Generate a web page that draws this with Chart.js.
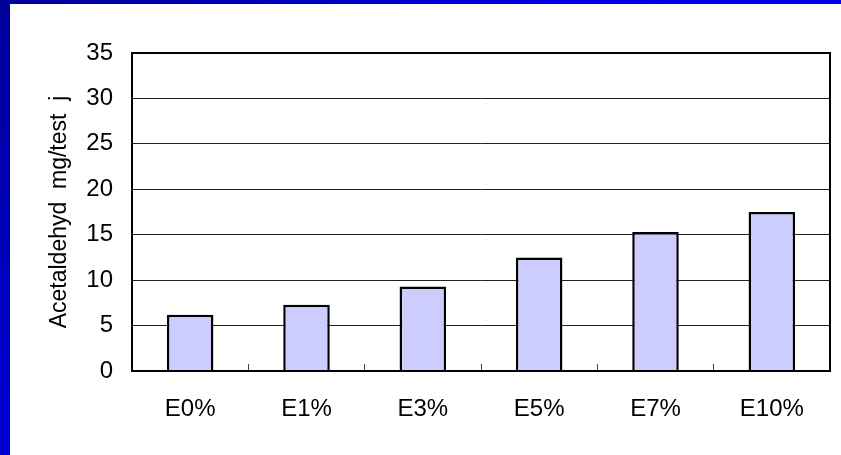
<!DOCTYPE html>
<html>
<head>
<meta charset="utf-8">
<script src="https://cdn.jsdelivr.net/npm/chart.js@4"></script>
<style>
  html, body { margin: 0; padding: 0; }
  body {
    width: 841px; height: 455px; overflow: hidden; position: relative;
    background: linear-gradient(135deg, #00009a 0%, #0000e6 45%, #0000ff 100%);
  }
  #wrap { position: absolute; left: 10px; top: 4px; width: 831px; height: 451px; background: #fff; }
</style>
</head>
<body>
<div id="wrap"><canvas id="chart" width="831" height="451"></canvas></div>
<script>
// data
const categories = ['E0%', 'E1%', 'E3%', 'E5%', 'E7%', 'E10%'];
const acetaldehyd = [6.2, 7.3, 9.3, 12.5, 15.3, 17.5];
const yMax = 35;
const yStep = 5;
const yTitle = 'Acetaldehyd  mg/test  j';

const FONT = 'Liberation Sans, Arial, sans-serif';

// draws the black frame round the plot area
const frame = {
    id: 'frame',
    afterDraw(chart) {
        const { ctx, chartArea } = chart;
        ctx.save();
        ctx.strokeStyle = '#000';
        ctx.lineWidth = 2;
        ctx.strokeRect(chartArea.left, chartArea.top, chartArea.right - chartArea.left, chartArea.bottom - chartArea.top);
        ctx.restore();
    }
};

new Chart(document.getElementById('chart'), {
    type: 'bar',
    data: {
        labels: categories,
        datasets: [{
            data: acetaldehyd,
            backgroundColor: '#ccccff',
            borderColor: '#000',
            borderWidth: 2.5,
            barPercentage: 0.4,
            categoryPercentage: 1
        }]
    },
    options: {
        responsive: false,
        animation: false,
        layout: { padding: { left: 36, top: 49, right: 11, bottom: 0 } },
        plugins: {
            legend: { display: false },
            tooltip: { enabled: false }
        },
        scales: {
            x: {
                afterFit: (s) => { s.height = 84; },
                grid: {
                    offset: true,
                    drawOnChartArea: false,
                    tickLength: -7,
                    color: '#444',
                    lineWidth: 1
                },
                border: { color: '#000', width: 2 },
                ticks: { color: '#000', padding: 31, font: { family: FONT, size: 24 } }
            },
            y: {
                min: 0,
                max: yMax,
                afterFit: (s) => { s.width = 86; },
                grid: { drawTicks: false, color: '#222', lineWidth: 1 },
                border: { color: '#000', width: 2 },
                ticks: { stepSize: yStep, color: '#000', padding: 19, font: { family: FONT, size: 24 } },
                title: {
                    display: true,
                    text: yTitle,
                    color: '#000',
                    padding: 0,
                    font: { family: FONT, size: 23 }
                }
            }
        }
    },
    plugins: [frame]
});
</script>
</body>
</html>
